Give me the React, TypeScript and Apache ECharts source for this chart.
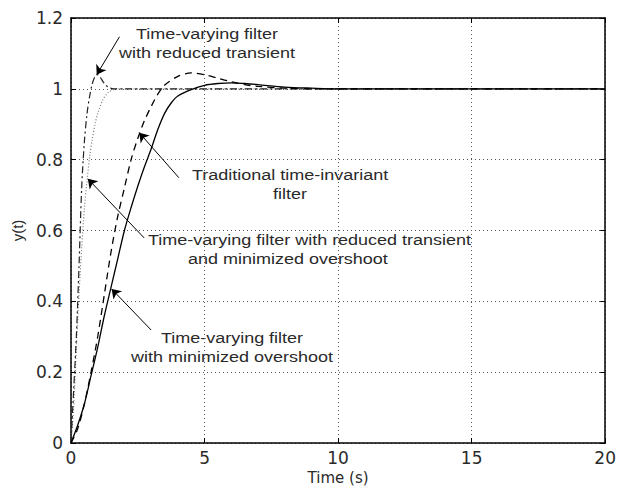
import React, { useEffect, useRef } from "react";
import * as echarts from "echarts";

// Traditional time-invariant filter (dashed)
const tradT = [0, 0.25, 0.5, 0.75, 1, 1.25, 1.5, 1.75, 2, 2.25, 2.5, 2.75, 3, 3.25, 3.5, 4, 4.5, 5, 5.5, 6, 6.5, 7, 8, 9, 20];
const tradY = [0, 0.04, 0.11, 0.2, 0.3, 0.42, 0.54, 0.64, 0.72, 0.8, 0.86, 0.91, 0.95, 0.985, 1.01, 1.035, 1.045, 1.04, 1.03, 1.02, 1.012, 1.007, 1.002, 1.0, 1.0];

// Time-varying filter with minimized overshoot (solid)
const minOvT = [0, 0.25, 0.5, 0.75, 1, 1.25, 1.5, 1.75, 2, 2.25, 2.5, 2.75, 3, 3.25, 3.5, 3.75, 4, 4.5, 5, 5.5, 6, 6.5, 7, 8, 9, 10, 20];
const minOvY = [0, 0.05, 0.11, 0.19, 0.27, 0.36, 0.44, 0.52, 0.6, 0.665, 0.725, 0.78, 0.83, 0.885, 0.93, 0.96, 0.98, 0.998, 1.01, 1.015, 1.017, 1.015, 1.012, 1.005, 1.002, 1.0, 1.0];

// Time-varying filter with reduced transient (dash-dot)
const redTrT = [0, 0.1, 0.2, 0.3, 0.4, 0.5, 0.6, 0.7, 0.8, 0.9, 1.0, 1.1, 1.2, 1.3, 1.45, 1.6, 2, 20];
const redTrY = [0, 0.15, 0.3, 0.5, 0.72, 0.85, 0.93, 0.98, 1.015, 1.035, 1.04, 1.032, 1.02, 1.01, 1.003, 1.0, 1.0, 1.0];

// Time-varying filter with reduced transient and minimized overshoot (dotted)
const bothT = [0, 0.1, 0.2, 0.3, 0.4, 0.5, 0.6, 0.7, 0.8, 0.9, 1.0, 1.2, 1.4, 1.7, 2, 20];
const bothY = [0, 0.1, 0.27, 0.42, 0.55, 0.66, 0.74, 0.81, 0.86, 0.9, 0.93, 0.97, 0.99, 1.0, 1.0, 1.0];

// Annotation arrows: [fromT, fromY, toT, toY] in data units
const arrows = [
  [1.815, 1.147, 0.963, 1.04],
  [4.04, 0.749, 2.556, 0.876],
  [2.74, 0.579, 0.63, 0.746],
  [3.0, 0.319, 1.52, 0.435],
];

const pairs = (t: number[], y: number[]) => t.map((v, i) => [v, y[i]]);

const FONT = "'Liberation Sans', Arial, sans-serif";

export default function App() {
  const ref = useRef<HTMLDivElement>(null);
  useEffect(() => {
    if (!ref.current) return;
    const chart = echarts.init(ref.current, undefined, { renderer: "svg" });
    const axisLineStyle = { color: "#000", width: 1.5 };
    const txt = (text: string, x: number, y: number, align: string) => ({
      type: "text",
      x,
      y,
      scaleX: 1.2,
      silent: true,
      style: {
        text,
        fill: "#2a2a2a",
        fontSize: 15,
        fontFamily: FONT,
        textAlign: align,
        align,
        textVerticalAlign: "middle",
        verticalAlign: "middle",
        lineHeight: 19,
      },
    });
    chart.setOption({
      animation: false,
      backgroundColor: "#fff",
      grid: { left: 71, right: 9, top: 18, bottom: 54 },
      xAxis: [
        {
          type: "value",
          min: 0,
          max: 20,
          interval: 5,
          position: "bottom",
          name: "Time (s)",
          nameLocation: "middle",
          nameGap: 15,
          nameTextStyle: { color: "#2a2a2a", fontSize: 15, fontFamily: "'DejaVu Sans'" },
          axisLine: { show: true, onZero: false, lineStyle: axisLineStyle },
          axisTick: { show: true, inside: true, length: 5, lineStyle: { color: "#000" } },
          axisLabel: { color: "#2a2a2a", fontSize: 17, fontFamily: "'DejaVu Sans'", margin: 6 },
          splitLine: { show: true, lineStyle: { type: [1, 3], color: "#555", width: 1 } },
        },
        {
          type: "value",
          min: 0,
          max: 20,
          interval: 5,
          position: "top",
          axisLine: { show: true, onZero: false, lineStyle: axisLineStyle },
          axisTick: { show: true, inside: true, length: 5, lineStyle: { color: "#000" } },
          axisLabel: { show: false },
          splitLine: { show: false },
        },
      ],
      yAxis: [
        {
          type: "value",
          min: 0,
          max: 1.2,
          interval: 0.2,
          position: "left",
          name: "y(t)",
          nameLocation: "middle",
          nameGap: 41,
          nameTextStyle: { color: "#2a2a2a", fontSize: 15, fontFamily: FONT },
          axisLine: { show: true, onZero: false, lineStyle: axisLineStyle },
          axisTick: { show: true, inside: true, length: 5, lineStyle: { color: "#000" } },
          axisLabel: { color: "#2a2a2a", fontSize: 17, fontFamily: "'DejaVu Sans'", margin: 8 },
          splitLine: { show: true, lineStyle: { type: [1, 3], color: "#555", width: 1 } },
        },
        {
          type: "value",
          min: 0,
          max: 1.2,
          interval: 0.2,
          position: "right",
          axisLine: { show: true, onZero: false, lineStyle: axisLineStyle },
          axisTick: { show: true, inside: true, length: 5, lineStyle: { color: "#000" } },
          axisLabel: { show: false },
          splitLine: { show: false },
        },
      ],
      series: [
        {
          type: "line",
          data: pairs(bothT, bothY),
          smooth: 0.3,
          showSymbol: false,
          silent: true,
          lineStyle: { color: "#777", width: 1.2, type: [1, 2] },
        },
        {
          type: "line",
          data: pairs(redTrT, redTrY),
          smooth: 0.3,
          showSymbol: false,
          silent: true,
          lineStyle: { color: "#222", width: 1.2, type: [7, 3, 2, 3] },
        },
        {
          type: "line",
          data: pairs(tradT, tradY),
          smooth: 0.3,
          showSymbol: false,
          silent: true,
          lineStyle: { color: "#000", width: 1.3, type: [7, 5] },
        },
        {
          type: "line",
          data: pairs(minOvT, minOvY),
          smooth: 0.3,
          showSymbol: false,
          silent: true,
          lineStyle: { color: "#000", width: 1.3, type: "solid" },
          markLine: {
            silent: true,
            animation: false,
            symbol: ["none", "arrow"],
            symbolSize: 9,
            label: { show: false },
            lineStyle: { color: "#000", width: 1, type: "solid" },
            emphasis: { disabled: true },
            data: arrows.map((a) => [{ coord: [a[0], a[1]] }, { coord: [a[2], a[3]] }]),
          },
        },
      ],
      graphic: [
        txt("Time-varying filter\nwith reduced transient", 207, 43.5, "center"),
        txt("Traditional time-invariant", 192, 175, "left"),
        txt("filter", 290, 194, "center"),
        txt("Time-varying filter with reduced transient", 148, 240, "left"),
        txt("and minimized overshoot", 188, 259, "left"),
        txt("Time-varying filter\nwith minimized overshoot", 232, 347.5, "center"),
      ],
    });
    return () => chart.dispose();
  }, []);
  return (
    <div
      ref={ref}
      style={{ position: "absolute", left: 0, top: 0, width: 619, height: 497 }}
    />
  );
}
